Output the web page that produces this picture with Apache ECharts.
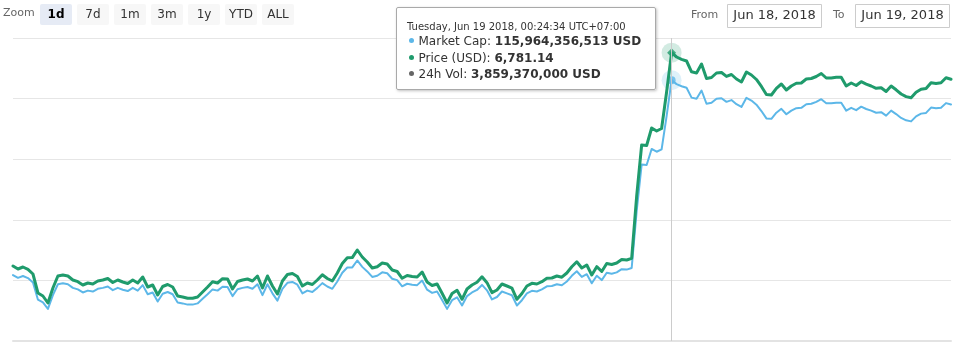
<!DOCTYPE html>
<html>
<head>
<meta charset="utf-8">
<script src="https://cdn.jsdelivr.net/npm/echarts@6/dist/echarts.min.js"></script>
<style>
  html, body { margin: 0; padding: 0; background: #fff; }
  #chart { width: 953px; height: 345px; }
</style>
</head>
<body>
<div id="chart"></div>
<script>
// Bitcoin price (USD), 5-minute samples
const priceUsd = [
  6506.54, 6502.68, 6505.25, 6502.29, 6496.24, 6471.78, 6467.92, 6458.91, 6478.22, 6493.67,
  6494.95, 6493.67, 6488.52, 6486.33, 6482.08, 6484.66, 6483.37, 6487.23, 6488.52, 6490.45,
  6485.30, 6488.52, 6485.94, 6484.01, 6488.52, 6484.66, 6492.38, 6479.51, 6482.08, 6469.21,
  6480.15, 6482.73, 6479.51, 6467.92, 6466.64, 6464.96, 6464.96, 6466.64, 6473.07, 6479.51,
  6486.33, 6484.66, 6490.19, 6489.80, 6476.93, 6486.59, 6488.52, 6489.80, 6487.23, 6493.67,
  6478.22, 6493.67, 6480.79, 6470.50, 6487.23, 6495.60, 6496.88, 6493.02, 6480.79, 6484.66,
  6482.73, 6488.52, 6495.21, 6490.45, 6487.23, 6497.53, 6509.75, 6517.22, 6517.35, 6527.13,
  6518.12, 6511.68, 6503.96, 6505.64, 6510.40, 6509.11, 6501.39, 6499.46, 6490.71, 6494.31,
  6493.02, 6492.38, 6498.81, 6485.94, 6481.44, 6483.37, 6471.40, 6458.91, 6471.14, 6475.26,
  6463.68, 6476.93, 6482.08, 6485.56, 6492.64, 6485.04, 6472.18, 6475.64, 6483.37, 6480.79,
  6478.07, 6463.68, 6471.14, 6480.79, 6484.26, 6483.37, 6486.33, 6490.71, 6491.09, 6493.67,
  6492.12, 6497.53, 6505.51, 6511.94, 6503.96, 6507.82, 6494.95, 6505.64, 6499.46, 6509.75,
  6508.47, 6510.40, 6514.90, 6514.26, 6516.45, 6596.64, 6662.28, 6661.64, 6684.16, 6680.30,
  6683.52, 6730.50, 6781.14, 6775.55, 6772.58, 6770.40, 6756.50, 6754.95, 6766.54, 6747.87,
  6749.16, 6754.95, 6755.60, 6750.58, 6753.02, 6747.23, 6743.37, 6756.24, 6752.38, 6746.59,
  6737.58, 6727.28, 6726.64, 6735.26, 6740.79, 6733.07, 6738.22, 6741.69, 6742.08, 6747.23,
  6747.87, 6750.45, 6754.31, 6748.52, 6748.52, 6749.42, 6749.42, 6738.22, 6742.08, 6738.86,
  6743.75, 6740.54, 6738.22, 6735.26, 6736.03, 6731.14, 6738.22, 6733.33, 6727.92, 6724.58,
  6723.03, 6730.11, 6733.97, 6735.00, 6742.47, 6741.44, 6742.34, 6748.77, 6746.84
];

// Market capitalisation, billions of USD
const marketCapBn = [
  111.268, 111.202, 111.246, 111.196, 111.092, 110.674, 110.608, 110.454, 110.784, 111.048,
  111.070, 111.048, 110.960, 110.923, 110.850, 110.894, 110.872, 110.938, 110.960, 110.993,
  110.905, 110.960, 110.916, 110.883, 110.960, 110.894, 111.026, 110.806, 110.850, 110.630,
  110.817, 110.861, 110.806, 110.608, 110.586, 110.557, 110.557, 110.586, 110.696, 110.806,
  110.923, 110.894, 110.989, 110.982, 110.762, 110.927, 110.960, 110.982, 110.938, 111.048,
  110.784, 111.048, 110.828, 110.652, 110.938, 111.081, 111.103, 111.037, 110.828, 110.894,
  110.861, 110.960, 111.075, 110.993, 110.938, 111.114, 111.323, 111.451, 111.453, 111.620,
  111.466, 111.356, 111.224, 111.253, 111.334, 111.312, 111.180, 111.147, 110.998, 111.059,
  111.037, 111.026, 111.136, 110.916, 110.839, 110.872, 110.667, 110.454, 110.663, 110.733,
  110.535, 110.762, 110.850, 110.910, 111.031, 110.901, 110.681, 110.740, 110.872, 110.828,
  110.782, 110.535, 110.663, 110.828, 110.888, 110.872, 110.923, 110.998, 111.004, 111.048,
  111.022, 111.114, 111.251, 111.361, 111.224, 111.290, 111.070, 111.253, 111.147, 111.323,
  111.301, 111.334, 111.411, 111.400, 111.438, 112.809, 113.932, 113.921, 114.306, 114.240,
  114.295, 115.098, 115.964356513, 115.869, 115.818, 115.781, 115.543, 115.517, 115.715, 115.396,
  115.418, 115.517, 115.528, 115.442, 115.484, 115.385, 115.319, 115.539, 115.473, 115.374,
  115.220, 115.043, 115.033, 115.180, 115.274, 115.142, 115.231, 115.290, 115.297, 115.385,
  115.396, 115.440, 115.506, 115.407, 115.407, 115.422, 115.422, 115.231, 115.297, 115.241,
  115.325, 115.270, 115.231, 115.180, 115.193, 115.109, 115.231, 115.147, 115.054, 114.997,
  114.971, 115.092, 115.158, 115.175, 115.303, 115.286, 115.301, 115.411, 115.378
];

// 24h trading volume at the highlighted sample
const volume24hUsd = 3859370000;

const rangeButtons = ['1d', '7d', '1m', '3m', '1y', 'YTD', 'ALL'];
const selectedRange = '1d';
const fromDate = 'Jun 18, 2018';
const toDate = 'Jun 19, 2018';

const activeIndex = 132;                                // highlighted sample
const activeTime = Date.UTC(2018, 5, 18, 17, 24, 34);  // Jun 19 2018 00:24:34 UTC+07:00
const STEP_MS = 5 * 60 * 1000;
const times = priceUsd.map((_, i) => activeTime + (i - activeIndex) * STEP_MS);

const BLUE = '#5cb7e8';
const GREEN = '#1f9b6c';
const FONT = 'DejaVu Sans, Verdana, sans-serif';

const DAYS = ['Sunday', 'Monday', 'Tuesday', 'Wednesday', 'Thursday', 'Friday', 'Saturday'];
const MONTHS = ['Jan', 'Feb', 'Mar', 'Apr', 'May', 'Jun', 'Jul', 'Aug', 'Sep', 'Oct', 'Nov', 'Dec'];
function formatStamp(t) {
  const d = new Date(t + 7 * 3600 * 1000);
  const p = n => String(n).padStart(2, '0');
  return DAYS[d.getUTCDay()] + ', ' + MONTHS[d.getUTCMonth()] + ' ' + d.getUTCDate() + ' ' +
    d.getUTCFullYear() + ', ' + p(d.getUTCHours()) + ':' + p(d.getUTCMinutes()) + ':' +
    p(d.getUTCSeconds()) + ' UTC+07:00';
}
const fmtInt = v => Math.round(v).toLocaleString('en-US');
const fmt2 = v => v.toLocaleString('en-US', { minimumFractionDigits: 2, maximumFractionDigits: 2 });

function dot(color) {
  return '<span style="display:inline-block;width:5px;height:5px;border-radius:50%;background:' +
    color + ';margin:0 5px 2px 1.5px;vertical-align:middle"></span>';
}
function tooltipHtml(i) {
  const row = 'font-size:12px;line-height:16.5px;color:#333;white-space:nowrap';
  return '<div style="font-size:10px;line-height:13px;color:#333;white-space:nowrap">' + formatStamp(times[i]) + '</div>' +
    '<div style="' + row + '">' + dot(BLUE) + 'Market Cap: <b>' + fmtInt(marketCapBn[i] * 1e9) + ' USD</b></div>' +
    '<div style="' + row + '">' + dot(GREEN) + 'Price (USD): <b>' + fmt2(priceUsd[i]) + '</b></div>' +
    '<div style="' + row + '">' + dot('#666666') + '24h Vol: <b>' + fmtInt(volume24hUsd) + ' USD</b></div>';
}

// Range selector and date inputs along the top
const graphic = [];
graphic.push({ type: 'text', left: 3, top: 8, style: { text: 'Zoom', fontSize: 11, fontFamily: FONT, fill: '#666666' } });
rangeButtons.forEach((label, k) => {
  const x = 40 + k * 37;
  const on = label === selectedRange;
  graphic.push({ type: 'rect', shape: { x: x, y: 4, width: 32, height: 21, r: 2 },
    style: { fill: on ? '#e6ebf5' : '#f7f7f7' } });
  graphic.push({ type: 'text', x: x + 16, y: 14.5,
    style: { text: label, fontSize: 12, fontFamily: FONT, fontWeight: on ? 'bold' : 'normal',
      fill: on ? '#000000' : '#333333', align: 'center', verticalAlign: 'middle' } });
});
[['From', 691, 727, fromDate], ['To', 833, 855, toDate]].forEach(([lab, lx, bx, val]) => {
  graphic.push({ type: 'text', x: lx, y: 15.5,
    style: { text: lab, fontSize: 11, fontFamily: FONT, fill: '#666666', verticalAlign: 'middle' } });
  graphic.push({ type: 'rect', shape: { x: bx + 0.5, y: 4.5, width: 94, height: 23 },
    style: { fill: '#ffffff', stroke: '#cccccc', lineWidth: 1 } });
  graphic.push({ type: 'text', x: bx + 47.5, y: 16,
    style: { text: val, fontSize: 13, fontFamily: FONT, fill: '#333333', align: 'center', verticalAlign: 'middle' } });
});

const chart = echarts.init(document.getElementById('chart'), null, { renderer: 'canvas' });
chart.setOption({
  animation: false,
  backgroundColor: '#ffffff',
  grid: { left: 13, right: 2, top: 38, bottom: 4 },
  graphic: graphic,
  tooltip: {
    trigger: 'axis',
    triggerOn: 'none',
    alwaysShowContent: true,
    transitionDuration: 0,
    position: () => [396, 7],
    padding: [12, 10, 4, 10],
    backgroundColor: 'rgba(255,255,255,0.96)',
    borderColor: '#a9a9a9',
    borderWidth: 1,
    textStyle: { fontFamily: FONT, color: '#333' },
    extraCssText: 'width:260px;height:83px;box-sizing:border-box;border-radius:2px;box-shadow:1px 1px 3px rgba(0,0,0,0.25);',
    axisPointer: { type: 'line', lineStyle: { color: '#cccccc', width: 1, type: 'solid' }, animation: false },
    formatter: () => tooltipHtml(activeIndex)
  },
  xAxis: {
    type: 'time',
    min: times[0],
    max: times[times.length - 1],
    axisLine: { show: true, lineStyle: { color: '#e3e3e3', width: 2 } },
    axisTick: { show: false },
    axisLabel: { show: false },
    splitLine: { show: false }
  },
  yAxis: [
    { type: 'value', min: 6410, max: 6800, interval: 78,
      axisLine: { show: false }, axisTick: { show: false }, axisLabel: { show: false },
      splitLine: { show: true, lineStyle: { color: '#e6e6e6', width: 1 } } },
    { type: 'value', min: 109.68, max: 116.98, show: false, splitLine: { show: false } }
  ],
  series: [
    { name: 'Market Cap', type: 'line', yAxisIndex: 1, symbol: 'none',
      data: times.map((t, i) => [t, marketCapBn[i]]),
      lineStyle: { color: BLUE, width: 2, join: 'round', cap: 'round' }, itemStyle: { color: BLUE },
      emphasis: { disabled: true } },
    { name: 'Price (USD)', type: 'line', yAxisIndex: 0, symbol: 'none',
      data: times.map((t, i) => [t, priceUsd[i]]),
      lineStyle: { color: GREEN, width: 3, join: 'round', cap: 'round' }, itemStyle: { color: GREEN },
      emphasis: { disabled: true } },
    { type: 'scatter', yAxisIndex: 1, silent: true, symbol: 'circle', symbolSize: 20,
      data: [[times[activeIndex], marketCapBn[activeIndex]]],
      itemStyle: { color: 'rgba(92,183,232,0.25)' }, emphasis: { disabled: true }, tooltip: { show: false } },
    { type: 'scatter', yAxisIndex: 1, silent: true, symbol: 'circle', symbolSize: 8,
      data: [[times[activeIndex], marketCapBn[activeIndex]]],
      itemStyle: { color: BLUE }, emphasis: { disabled: true }, tooltip: { show: false } },
    { type: 'scatter', yAxisIndex: 0, silent: true, symbol: 'circle', symbolSize: 20,
      data: [[times[activeIndex], priceUsd[activeIndex]]],
      itemStyle: { color: 'rgba(31,155,108,0.25)' }, emphasis: { disabled: true }, tooltip: { show: false } },
    { type: 'scatter', yAxisIndex: 0, silent: true, symbol: 'diamond', symbolSize: 9,
      data: [[times[activeIndex], priceUsd[activeIndex]]],
      itemStyle: { color: GREEN }, emphasis: { disabled: true }, tooltip: { show: false } }
  ]
});
chart.dispatchAction({ type: 'showTip', seriesIndex: 1, dataIndex: activeIndex });
</script>
</body>
</html>
